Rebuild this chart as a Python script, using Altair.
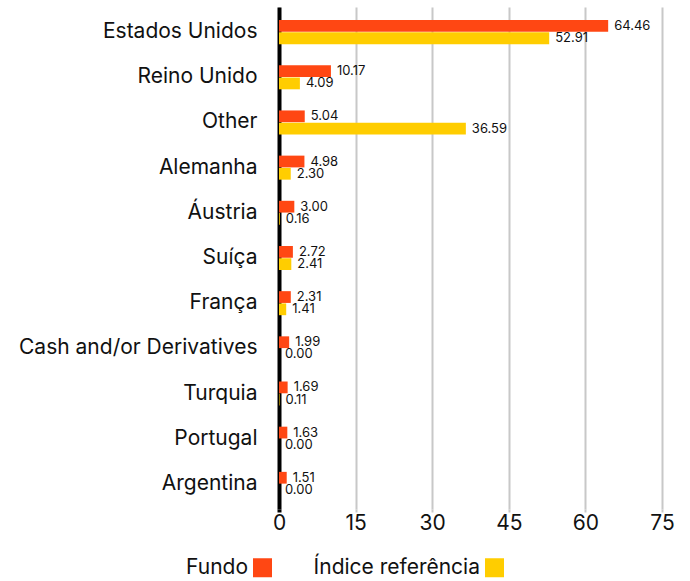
import altair as alt
import pandas as pd

categories = ["Estados Unidos", "Reino Unido", "Other", "Alemanha", "Áustria", "Suíça",
              "França", "Cash and/or Derivatives", "Turquia", "Portugal", "Argentina"]
fundo = [64.46, 10.17, 5.04, 4.98, 3.00, 2.72, 2.31, 1.99, 1.69, 1.63, 1.51]
indice = [52.91, 4.09, 36.59, 2.30, 0.16, 2.41, 1.41, 0.00, 0.11, 0.00, 0.00]
series = ["Fundo", "Índice referência"]
colors = ["#ff4713", "#ffcd00"]
x_ticks = [0, 15, 30, 45, 60, 75]

rows = []
for c, f, i in zip(categories, fundo, indice):
    rows.append({"cat": c, "serie": series[0], "val": f})
    rows.append({"cat": c, "serie": series[1], "val": i})
df = pd.DataFrame(rows)

FONT = "Inter"

y_enc = alt.Y("cat:N", sort=categories, title=None,
              scale=alt.Scale(paddingInner=0.468, paddingOuter=0.29),
              axis=alt.Axis(labelFontSize=21, labelColor="#111", labelFont=FONT,
                            labelPadding=22, ticks=False, domain=True,
                            domainColor="black", domainWidth=4, labelLimit=400,
                            grid=False))
x_enc = alt.X("val:Q", title=None,
              scale=alt.Scale(domain=[0, 75], nice=False),
              axis=alt.Axis(values=x_ticks, labelFontSize=21, labelColor="#111",
                            labelFont=FONT, grid=True, gridColor="#c8c8c8",
                            gridWidth=2, domain=False, tickSize=3,
                            tickColor=alt.ExprRef("datum.value == 0 ? 'black' : '#c8c8c8'"),
                            tickWidth=alt.ExprRef("datum.value == 0 ? 4 : 2"),
                            labelPadding=0, labelFlush=False))
yoff = alt.YOffset("serie:N", sort=series, scale=alt.Scale(paddingInner=0.04))
color = alt.Color("serie:N", sort=series,
                  scale=alt.Scale(domain=series, range=colors),
                  legend=alt.Legend(title=None, orient="none", direction="horizontal",
                                    legendX=-27, legendY=550,
                                    symbolType="square", symbolSize=361,
                                    symbolStrokeWidth=0, symbolOpacity=1,
                                    labelFontSize=21, labelFont=FONT, labelColor="#111",
                                    labelAlign="right", labelOffset=alt.ExprRef("-25"),
                                    columnPadding=41, labelLimit=300))

bars = alt.Chart(df).mark_bar().encode(y=y_enc, x=x_enc, yOffset=yoff, color=color)
labels = alt.Chart(df).mark_text(align="left", baseline="middle", dx=6,
                                 fontSize=13, font=FONT, color="#111").encode(
    y=alt.Y("cat:N", sort=categories),
    x="val:Q",
    yOffset=alt.YOffset("serie:N", sort=series),
    text=alt.Text("val:Q", format=".2f"),
)

chart = alt.layer(bars, labels).properties(
    width=383, height=502,
    autosize=alt.AutoSizeParams(type="none"),
    padding={"left": 279, "top": 7, "right": 28, "bottom": 72},
).configure(background="white").configure_view(stroke=None)

chart.save("out.html", embed_options={"renderer": "svg", "actions": False})
